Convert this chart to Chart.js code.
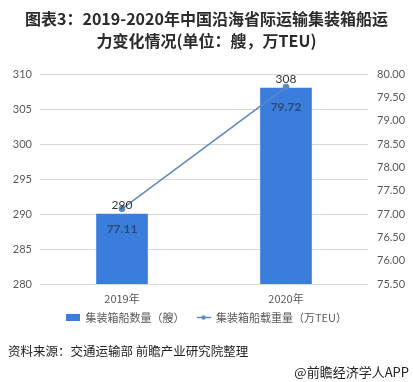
<!DOCTYPE html>
<html><head><meta charset="utf-8">
<script src="https://cdn.jsdelivr.net/npm/chart.js@4.4.1/dist/chart.umd.min.js"></script>
<style>
html,body{margin:0;padding:0;background:#fff;}
#wrap{position:relative;width:413px;height:382px;overflow:hidden;font-family:"Noto Sans CJK SC","Noto Sans",sans-serif;}
#c{position:absolute;left:0;top:0;}
#title{position:absolute;left:0;top:7px;width:413px;text-align:center;font-weight:bold;font-size:16px;line-height:22px;color:#2b2b2b;}
#src{position:absolute;left:8px;top:341px;font-size:12.5px;color:#222;white-space:nowrap;}
#app{position:absolute;right:4px;top:362px;font-size:13px;color:#222;white-space:nowrap;}
</style></head>
<body><div id="wrap">
<canvas id="c" width="413" height="382"></canvas>
<div id="title">图表3：2019-2020年中国沿海省际运输集装箱船运<br>力变化情况(单位：艘，万TEU)</div>
<div id="src">资料来源：交通运输部 前瞻产业研究院整理</div>
<div id="app">@前瞻经济学人APP</div>
</div>
<script>
const categories = ['2019年', '2020年'];
const shipCount = [290, 308];
const capacity = [77.11, 79.72];
const seriesNames = ['集装箱船数量（艘）', '集装箱船载重量（万TEU）'];
const leftTicks = [280, 285, 290, 295, 300, 305, 310];
const rightTicks = [75.5, 76, 76.5, 77, 77.5, 78, 78.5, 79, 79.5, 80];

const barColor = '#3b7ddd';
const lineColor = '#5b89c2';

function makeIcon(kind){
  const cv = document.createElement('canvas');
  cv.width = 14; cv.height = 7;
  const g = cv.getContext('2d');
  if(kind==='bar'){ g.fillStyle = barColor; g.fillRect(0,0,14,7); }
  else {
    g.strokeStyle = lineColor; g.lineWidth = 1.5;
    g.beginPath(); g.moveTo(0,3.5); g.lineTo(14,3.5); g.stroke();
    g.fillStyle = lineColor; g.beginPath(); g.arc(7,3.5,2.2,0,Math.PI*2); g.fill();
  }
  return cv;
}
const icons = [makeIcon('bar'), makeIcon('line')];

const numFont = 'Lato, "Noto Sans", sans-serif';

const labelPlugin = {
  id: 'vlabels',
  beforeLayout(chart){
    const lg = chart.legend;
    if (lg && !lg._patched) {
      const orig = lg.fit.bind(lg);
      lg.fit = function(){ orig(); this.height = 25; };
      lg._patched = true;
    }
  },
  afterLayout(chart){
    const lg = chart.legend;
    if (lg) { lg.top -= 8; lg.bottom -= 8; }
  },
  afterDatasetsDraw(chart){
    const ctx = chart.ctx;
    ctx.save();
    ctx.textAlign = 'center';
    ctx.textBaseline = 'middle';
    const barMeta = chart.getDatasetMeta(0);
    ctx.font = '12px ' + numFont;
    ctx.fillStyle = '#333';
    barMeta.data.forEach((el,i)=>{
      ctx.fillText(String(shipCount[i]), el.x, el.y - 9);
    });
    const lineMeta = chart.getDatasetMeta(1);
    ctx.font = 'bold 12px ' + numFont;
    ctx.fillStyle = '#2c4a72';
    lineMeta.data.forEach((el,i)=>{
      ctx.fillText(capacity[i].toFixed(2), el.x, el.y + 20);
    });
    ctx.restore();
  }
};

new Chart(document.getElementById('c'), {
  data: {
    labels: categories,
    datasets: [
      { type:'bar', label: seriesNames[0], data: shipCount, backgroundColor: barColor,
        yAxisID:'y', barThickness: 51, order: 2 },
      { type:'line', label: seriesNames[1], data: capacity, borderColor: lineColor,
        backgroundColor: lineColor, borderWidth: 1.5, pointRadius: 2.5, pointHoverRadius: 2.5,
        yAxisID:'y1', order: 1, tension: 0 }
    ]
  },
  options: {
    responsive: false,
    animation: false,
    layout: { padding: { top: 74, left: 0, right: 0, bottom: 49 } },
    plugins: {
      title: { display: false },
      tooltip: { enabled: false },
      legend: {
        position: 'bottom',
        labels: {
          usePointStyle: true,
          pointStyleWidth: 14,
          boxHeight: 7,
          padding: 12,
          color: '#595959',
          font: { size: 11, family: '"Noto Sans CJK SC", sans-serif' },
          generateLabels(chart){
            return chart.data.datasets.map((ds,i)=>({
              text: ds.label, pointStyle: icons[i], datasetIndex: i,
              fillStyle: ds.backgroundColor, strokeStyle: ds.backgroundColor,
              lineWidth: 0, hidden: false, fontColor: '#595959'
            }));
          }
        }
      }
    },
    scales: {
      x: {
        grid: { display: false, drawTicks: false },
        border: { display: false },
        ticks: { color: '#595959', padding: 8, maxRotation: 0, minRotation: 0, autoSkip: false,
          font: { size: 11, family: '"Noto Sans CJK SC", sans-serif' } },
        afterFit(s){ s.height = 24; }
      },
      y: {
        position: 'left', min: 280, max: 310,
        afterBuildTicks(s){ s.ticks = leftTicks.map(v=>({value:v})); },
        grid: { color: '#d9d9d9', drawTicks: false, lineWidth: 1 },
        border: { display: false },
        ticks: { color: '#595959', padding: 8, font: { size: 11, family: numFont } },
        afterFit(s){ s.width = 40; }
      },
      y1: {
        position: 'right', min: 75.5, max: 80,
        afterBuildTicks(s){ s.ticks = rightTicks.map(v=>({value:v})); },
        grid: { display: false, drawTicks: false },
        border: { display: false },
        ticks: { color: '#595959', padding: 9, font: { size: 11, family: numFont },
          callback: v => Number(v).toFixed(2) },
        afterFit(s){ s.width = 45; }
      }
    }
  },
  plugins: [labelPlugin]
});
</script>
</body></html>
